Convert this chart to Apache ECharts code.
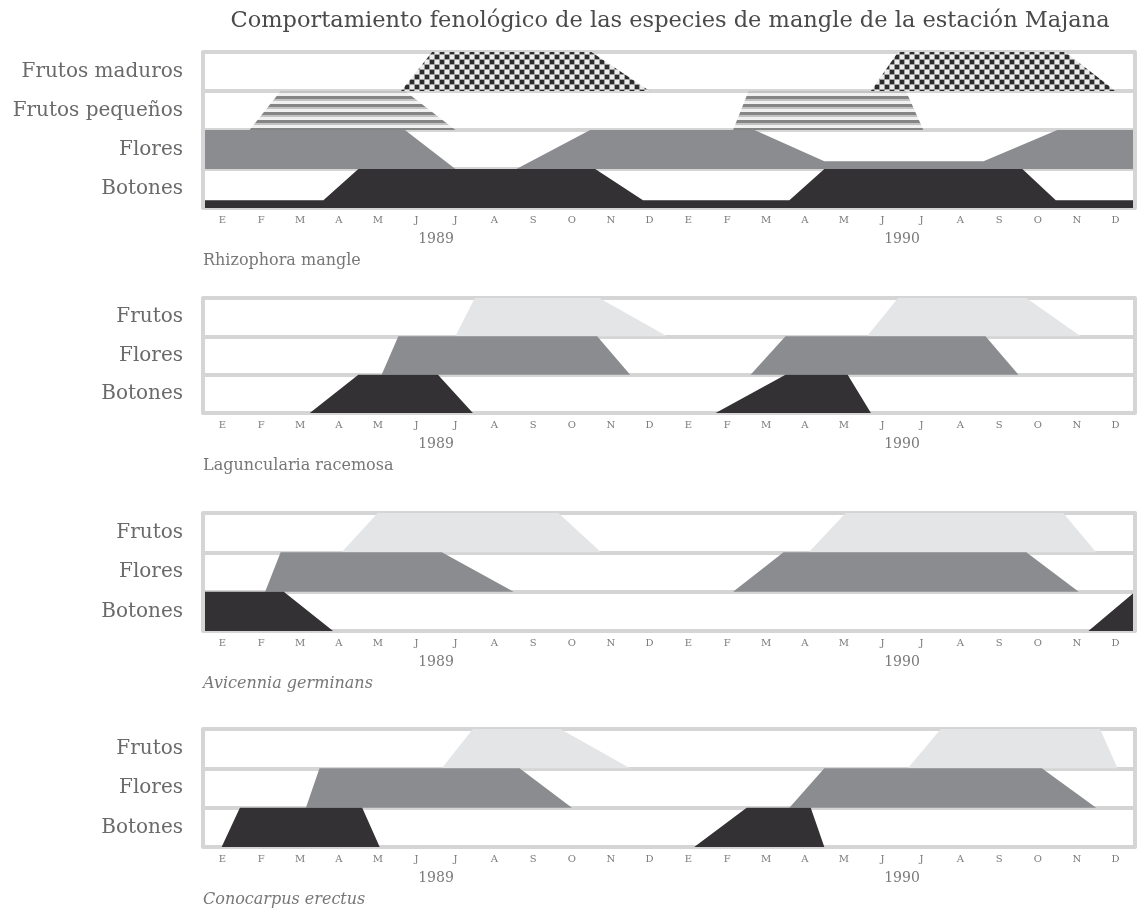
<!DOCTYPE html>
<html>
<head>
<meta charset="utf-8">
<script src="https://cdn.jsdelivr.net/npm/echarts@6/dist/echarts.min.js"></script>
<style>
html,body{margin:0;padding:0;background:#fff;}
#chart{width:1138px;height:916px;}
</style>
</head>
<body>
<div id="chart"></div>
<script>
// ---------- DATA ----------
const chartTitle = 'Comportamiento fenológico de las especies de mangle de la estación Majana';
const months = ['E','F','M','A','M','J','J','A','S','O','N','D','E','F','M','A','M','J','J','A','S','O','N','D'];
const years = ['1989','1990'];
const species = ['Rhizophora mangle','Laguncularia racemosa','Avicennia germinans','Conocarpus erectus'];
const rowsRhizophora = ['Frutos maduros','Frutos pequeños','Flores','Botones'];
const rowsOthers = ['Frutos','Flores','Botones'];

// profiles: [month (0..24), intensity (0..1 of row)]
const rhizFrutosMaduros = [[0,0],[5.1,0],[5.9,1],[10,1],[11.5,0],[17.2,0],[17.9,1],[22.2,1],[23.5,0],[24,0]];
const rhizFrutosPequenos = [[0,0],[1.2,0],[2.0,1],[5.2,1],[6.5,0],[13.65,0],[14.05,1],[18.1,1],[18.55,0],[24,0]];
const rhizFlores = [[0,1],[5.2,1],[6.5,0],[8.07,0],[9.97,1],[14.2,1],[16.0,0.2],[20.1,0.2],[22.0,1],[24,1]];
const rhizBotones = [[0,0.2],[3.1,0.2],[4.0,1],[10.1,1],[11.33,0.2],[15.1,0.2],[16.0,1],[21.1,1],[21.96,0.2],[24,0.2]];

const lagFrutos = [[0,0],[6.5,0],[7.0,1],[10.2,1],[11.95,0],[17.1,0],[17.9,1],[21.2,1],[22.6,0],[24,0]];
const lagFlores = [[0,0],[4.6,0],[5.03,1],[10.15,1],[11.0,0],[14.1,0],[15.0,1],[20.15,1],[21.0,0],[24,0]];
const lagBotones = [[0,0],[2.75,0],[4.0,1],[6.05,1],[6.95,0],[13.2,0],[15.0,1],[16.6,1],[17.2,0],[24,0]];

const aviFrutos = [[0,0],[3.57,0],[4.5,1],[9.15,1],[10.25,0],[15.6,0],[16.55,1],[22.15,1],[23.0,0],[24,0]];
const aviFlores = [[0,0],[1.6,0],[2.0,1],[6.15,1],[8.0,0],[13.65,0],[14.95,1],[21.2,1],[22.55,0],[24,0]];
const aviBotones = [[0,1],[2.08,1],[3.35,0],[22.8,0],[24,1]];

const conFrutos = [[0,0],[6.15,0],[6.95,1],[9.2,1],[11.0,0],[18.15,0],[19.0,1],[23.1,1],[23.55,0],[24,0]];
const conFlores = [[0,0],[2.65,0],[3.0,1],[8.15,1],[9.5,0],[15.1,0],[16.0,1],[21.6,1],[23.0,0],[24,0]];
const conBotones = [[0,0],[0.48,0],[0.95,1],[4.1,1],[4.55,0],[12.65,0],[14.0,1],[15.65,1],[16.0,0],[24,0]];

// ---------- STYLES ----------
function makeStripes(){
  const c = document.createElement('canvas'); c.width = 8; c.height = 8;
  const g = c.getContext('2d');
  g.fillStyle = '#f0f0f0'; g.fillRect(0,0,8,8);
  g.fillStyle = '#858585'; g.fillRect(0,0,8,3);
  g.fillStyle = '#c2c2c2'; g.fillRect(0,3,8,2);
  return c;
}
function makeChecker(){
  const c = document.createElement('canvas'); c.width = 10; c.height = 10;
  const g = c.getContext('2d');
  g.fillStyle = '#a0a0a0'; g.fillRect(0,0,10,10);
  g.fillStyle = '#2c2c2c'; g.fillRect(0,0,4,4); g.fillRect(5,5,4,4);
  g.fillStyle = '#ececec'; g.fillRect(5,0,4,4); g.fillRect(0,5,4,4);
  return c;
}
const fills = {
  maduros: {image: makeChecker(), repeat: 'repeat'},
  pequenos: {image: makeStripes(), repeat: 'repeat'},
  frutos: '#e4e5e7',
  flores: '#8b8c8f',
  botones: '#333133'
};
const lineColor = '#d5d5d5';
const textColor = '#6a6a6a';
const serif = 'DejaVu Serif';

const panels = [
  {rows: rowsRhizophora, profiles: [rhizFrutosMaduros, rhizFrutosPequenos, rhizFlores, rhizBotones], fills: ['maduros','pequenos','flores','botones'], top: 52, height: 156, italic: false},
  {rows: rowsOthers, profiles: [lagFrutos, lagFlores, lagBotones], fills: ['frutos','flores','botones'], top: 298, height: 115, italic: false},
  {rows: rowsOthers, profiles: [aviFrutos, aviFlores, aviBotones], fills: ['frutos','flores','botones'], top: 513, height: 118, italic: true},
  {rows: rowsOthers, profiles: [conFrutos, conFlores, conBotones], fills: ['frutos','flores','botones'], top: 729, height: 118, italic: true}
];

const grid = [], xAxis = [], yAxis = [], series = [];
const title = [{
  text: chartTitle, left: 670, top: 10, textAlign: 'center', padding: 0,
  textStyle: {fontFamily: serif, fontSize: 22.5, fontWeight: 'normal', color: '#4a4a4a'}
}];

panels.forEach((p, gi) => {
  const n = p.rows.length;
  grid.push({left: 203, right: 3, top: p.top, height: p.height});
  const xBase = xAxis.length;
  xAxis.push({gridIndex: gi, type: 'value', min: 0, max: 24, show: false});
  xAxis.push({gridIndex: gi, type: 'category', data: months, boundaryGap: true, position: 'bottom',
    axisLine: {show: false}, axisTick: {show: false}, splitLine: {show: false},
    axisLabel: {interval: 0, margin: 7, fontFamily: serif, fontSize: 10, color: '#7a7a7a'}});
  xAxis.push({gridIndex: gi, type: 'category', data: years, boundaryGap: true, position: 'bottom',
    axisLine: {show: false}, axisTick: {show: false}, splitLine: {show: false},
    axisLabel: {interval: 0, margin: 24, fontFamily: serif, fontSize: 14, color: '#7a7a7a'}});
  const yBase = yAxis.length;
  yAxis.push({gridIndex: gi, type: 'value', min: 0, max: n, interval: 1,
    axisLine: {show: false}, axisTick: {show: false}, axisLabel: {show: false},
    splitLine: {show: true, lineStyle: {color: lineColor, width: 4}}});
  yAxis.push({gridIndex: gi, type: 'category', data: p.rows, inverse: true, position: 'left', z: 5,
    axisLine: {show: true, lineStyle: {color: lineColor, width: 4}}, axisTick: {show: false}, splitLine: {show: false},
    axisLabel: {margin: 20, fontFamily: serif, fontSize: 20, color: textColor}});
  yAxis.push({gridIndex: gi, type: 'value', min: 0, max: n, position: 'right', z: 5,
    axisLine: {show: true, lineStyle: {color: lineColor, width: 4}}, axisTick: {show: false},
    axisLabel: {show: false}, splitLine: {show: false}});

  p.profiles.forEach((prof, ri) => {
    const rowBase = n - 1 - ri;
    const fill = fills[p.fills[ri]];
    series.push({
      type: 'custom', xAxisIndex: xBase, yAxisIndex: yBase, clip: true, silent: true,
      data: [[prof[0][0], rowBase]],
      renderItem: function (params, api) {
        const pts = prof.map(pt => api.coord([pt[0], rowBase + pt[1]]));
        pts.push(api.coord([prof[prof.length - 1][0], rowBase]));
        pts.push(api.coord([prof[0][0], rowBase]));
        return {type: 'polygon', shape: {points: pts}, style: {fill: fill, stroke: null}};
      }
    });
  });

  title.push({
    text: species[gi], left: 203, top: p.top + p.height + 45, padding: 0,
    textStyle: {fontFamily: serif, fontSize: 16, fontWeight: 'normal', fontStyle: p.italic ? 'italic' : 'normal', color: '#777'}
  });
});

const chart = echarts.init(document.getElementById('chart'), null, {renderer: 'canvas'});
chart.setOption({
  backgroundColor: '#fff',
  animation: false,
  title: title,
  grid: grid,
  xAxis: xAxis,
  yAxis: yAxis,
  series: series
});
</script>
</body>
</html>
